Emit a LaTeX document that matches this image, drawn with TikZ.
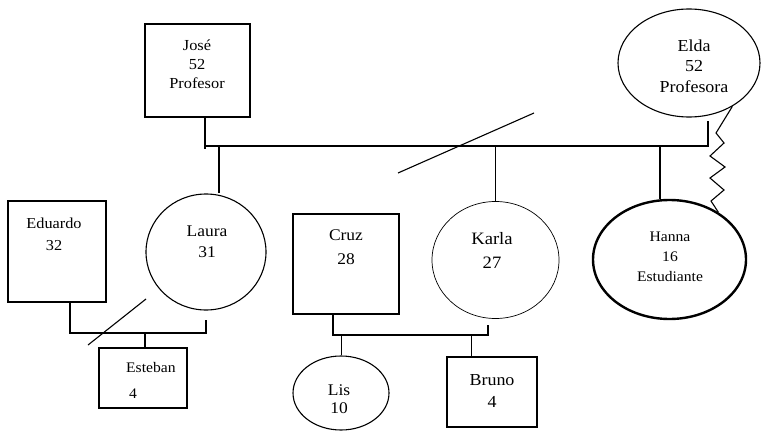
\documentclass[tikz,border=0pt]{standalone}
\usepackage{fontspec}
\setmainfont{Liberation Serif}[FakeStretch=1.07]
\usetikzlibrary{shapes.geometric}
\tikzset{
  pbox/.style={draw, rectangle, inner sep=0pt, line width=1.1pt},
  pell/.style={draw, ellipse, inner sep=0pt, line width=1.1pt},
  lnk/.style={line width=1.1pt},
  thinlnk/.style={line width=0.8pt},
  txt/.style={align=center, inner sep=0pt},
}
\newcommand{\fs}[2]{\fontsize{#1}{#2}\selectfont}
\begin{document}
\begin{tikzpicture}[x=1pt,y=-1pt]
\useasboundingbox (0,0) rectangle (762,433);
% persons
\node[pbox, minimum width=105pt, minimum height=93pt] (jose) at (197.5,70.5) {};
\node[pell, minimum width=142pt, minimum height=108pt] (elda) at (689,63) {};
\node[pbox, minimum width=98pt, minimum height=101pt] (eduardo) at (57,251.5) {};
\node[pell, minimum width=120pt, minimum height=116pt] (laura) at (206,252) {};
\node[pbox, minimum width=106pt, minimum height=100pt] (cruz) at (346,264) {};
\node[pell, line width=0.7pt, minimum width=127pt, minimum height=117pt] (karla) at (495.5,260) {};
\node[pell, line width=2.4pt, minimum width=153pt, minimum height=119pt] (hanna) at (669.5,259.5) {};
\node[pbox, minimum width=88pt, minimum height=60pt] (esteban) at (143,378) {};
\node[pell, minimum width=96pt, minimum height=74pt] (lis) at (341,393) {};
\node[pbox, minimum width=90pt, minimum height=70pt] (bruno) at (492,392) {};
% texts
\node[txt, font=\fs{15.3}{19}] (tjose) at (197,64) {José\\52\\Profesor};
\node[txt, font=\fs{16.8}{20.5}] (telda) at (694,66) {Elda\\52\\Profesora};
\node[txt, font=\fs{15.2}{22}] (teduardo) at (54,234) {Eduardo\\32};
\node[txt, font=\fs{16.3}{21}] (tlaura) at (207,242) {Laura\\31};
\node[txt, font=\fs{16.3}{24}] (tcruz) at (346,247) {Cruz\\28};
\node[txt, font=\fs{17.4}{24}] (tkarla) at (492,250) {Karla\\27};
\node[txt, font=\fs{14.6}{20}] (thanna) at (670,257) {Hanna\\16\\Estudiante};
\node[txt, align=left, anchor=west, font=\fs{14.6}{26}] (testeban) at (126,380) {Esteban\\\hspace{3pt}4};
\node[txt, font=\fs{16.3}{18}] (tlis) at (339,399) {Lis\\10};
\node[txt, font=\fs{16.8}{22}] (tbruno) at (492,391) {Bruno\\4};
% coordinates
\coordinate (mL) at (205,146);
\coordinate (mR) at (708,146);
\coordinate (eldaStub) at (708,121);
\coordinate (jl) at (219,146);
\coordinate (jh) at (660,146);
\coordinate (sA) at (398,173);
\coordinate (sB) at (534,113);
\coordinate (el1) at (70,333);
\coordinate (el2) at (206,333);
\coordinate (el3) at (206,320);
\coordinate (ec) at (145,333);
\coordinate (s2A) at (88,345);
\coordinate (s2B) at (146,299);
\coordinate (ck1) at (333,335);
\coordinate (ck2) at (488,335);
\coordinate (ck3) at (488,325);
\coordinate (cl) at (341,335);
\coordinate (cb) at (471,335);
% parents' union
\draw[lnk] (jose.south -| mL) -- ([yshift=-3pt]mL);
\draw[lnk] (mL) -- (mR) -- (eldaStub);
\draw[lnk] (sA) -- (sB);
% children of José and Elda
\draw[lnk] (jl) -- (jl |- laura.north);
\draw[thinlnk] (karla.north |- mL) -- (karla.north);
\draw[lnk] (jh) -- (jh |- hanna.north);
% conflictive relation
\draw[lnk] (elda.315) -- (716,133) -- (724,143) -- (710,156) -- (725,167) -- (710,178) -- (724,190) -- (711,201) -- (hanna.44);
% Eduardo and Laura
\draw[lnk] (eduardo.south -| el1) -- (el1) -- (el2) -- (el3);
\draw[lnk] (ec) -- (ec |- esteban.north);
\draw[lnk] (s2A) -- (s2B);
% Cruz and Karla
\draw[lnk] (cruz.south -| ck1) -- (ck1) -- (ck2) -- (ck3);
\draw[thinlnk] (cl) -- (lis.north);
\draw[thinlnk] (cb) -- (cb |- bruno.north);
\end{tikzpicture}
\end{document}
